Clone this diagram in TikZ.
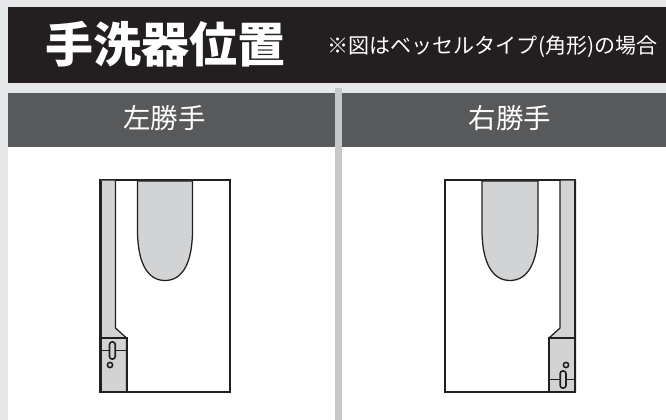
\documentclass[tikz,border=0pt]{standalone}
\usepackage{fontspec}
\newfontfamily\cjk{Noto Sans CJK JP}
\newfontfamily\cjkblack{Noto Sans CJK JP Black}
\definecolor{pagegray}{HTML}{E6E7E8}
\definecolor{bandblack}{HTML}{231F20}
\definecolor{headgray}{HTML}{58595B}
\definecolor{partgray}{HTML}{D1D3D4}
\definecolor{rulegray}{HTML}{C7C8CA}
\tikzset{
	panel/.style={fill=white,draw=none},
	headtext/.style={text=white,font=\cjk\fontsize{20.6pt}{24pt}\selectfont,inner sep=0pt},
	partline/.style={draw=bandblack,line width=0.95pt,fill=partgray},
	thinline/.style={draw=bandblack,line width=0.5pt},
	slotline/.style={draw=bandblack,line width=1.2pt,fill=partgray,rounded corners=1.8pt}
}
\begin{document}
\begin{tikzpicture}[x=0.75pt,y=-0.75pt]
	\useasboundingbox (0,0) rectangle (666,420);
	\fill[pagegray] (0,0) rectangle (666,420);
	% title band
	\fill[bandblack] (8,7) rectangle (666,83);
	\node[text=white,inner sep=0pt,font=\cjkblack\fontsize{36pt}{40pt}\selectfont] (title) at (165.5,44) {手洗器位置};
	\node[text=white,inner sep=0pt,font=\cjk\fontsize{15.8pt}{18pt}\selectfont] (note) at (492.5,47) {※図はベッセルタイプ(角形)の場合};
	% panels
	\fill[panel] (8,147) rectangle (335,420);
	\fill[panel] (342,147) rectangle (666,420);
	\fill[headgray] (8,93) rectangle (335,147);
	\fill[headgray] (342,93) rectangle (666,147);
	\fill[rulegray] (335,88) rectangle (342,420);
	\node[headtext] (lefthead) at (164.5,118) {左勝手};
	\node[headtext] (righthead) at (510,118) {右勝手};
	% left hand figure
	\draw[thinline,line width=0.85pt] (100,180) rectangle (230,392);
	\draw[partline] (137.5,181) -- (192.5,181) -- (192.5,230) .. controls (192.5,262) and (183,280.5) .. (165,280.5) .. controls (147,280.5) and (137.5,262) .. (137.5,230) -- cycle; % bowl
	\draw[partline] (100,180) -- (115.5,180) -- (115.5,328) -- (126.5,338) -- (126.5,392) -- (100,392) -- cycle; % strip
	\draw[partline,fill=none,line width=1.5pt] (101,181) -- (101,392) -- (126.5,392) -- (126.5,338) -- (101,338);
	\draw[thinline] (102,350) -- (125.5,350);
	\draw[slotline] (109.5,342) rectangle (115.2,359); % slot
	\draw[slotline,rounded corners=0pt] (110,365) circle (2.6);
	% right hand figure
	\draw[thinline,line width=0.85pt] (445,180) rectangle (575.5,392);
	\draw[partline] (482,181) -- (538,181) -- (538,230) .. controls (538,262) and (528,280.5) .. (510,280.5) .. controls (492,280.5) and (482,262) .. (482,230) -- cycle; % bowl
	\draw[partline] (575.5,180) -- (560,180) -- (560,328) -- (549,338) -- (549,392) -- (575.5,392) -- cycle; % strip
	\draw[partline,fill=none,line width=1.5pt] (574.5,181) -- (574.5,392) -- (549,392) -- (549,338) -- (574.5,338);
	\draw[thinline] (550,379) -- (573.5,379);
	\draw[slotline] (560.2,371) rectangle (566,388); % slot
	\draw[slotline,rounded corners=0pt] (566,365) circle (2.6);
\end{tikzpicture}
\end{document}
